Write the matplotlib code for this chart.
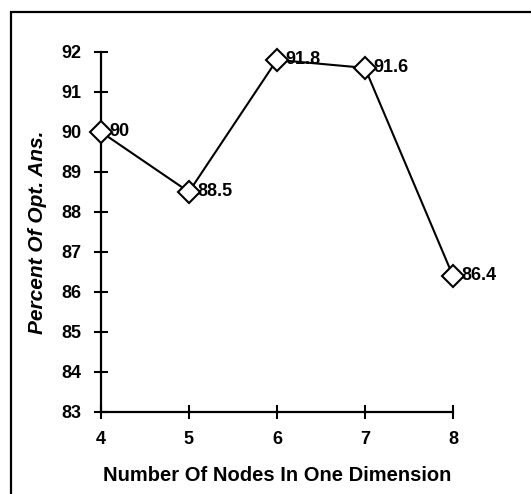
import matplotlib.pyplot as plt
from matplotlib.patches import Rectangle

plt.rcParams['font.family'] = ['Liberation Sans', 'DejaVu Sans']
plt.rcParams['font.weight'] = 'bold'

# data
nodes = [4, 5, 6, 7, 8]
percent = [90, 88.5, 91.8, 91.6, 86.4]
labels = ['90', '88.5', '91.8', '91.6', '86.4']

fig = plt.figure(figsize=(5.31, 4.94), dpi=100)
ax = fig.add_axes([0.190, 0.166, 0.663, 0.729])

ax.plot(nodes, percent, color='black', lw=1.5, marker='D', ms=11,
        mfc='white', mec='black', mew=1.5, clip_on=False, zorder=3)
for x, y, t in zip(nodes, percent, labels):
    ax.annotate(t, (x, y), xytext=(6, 0), textcoords='offset points',
                va='center', ha='left', fontsize=13, fontweight='bold', zorder=4)

ax.set_xlim(4, 8)
ax.set_ylim(83, 92)
ax.set_xticks(nodes)
ax.set_yticks(range(83, 93))
for s in ['top', 'right']:
    ax.spines[s].set_visible(False)
for s in ['left', 'bottom']:
    ax.spines[s].set_linewidth(1.6)
ax.tick_params(direction='inout', length=10, width=1.5, labelsize=13)
ax.tick_params(axis='x', pad=9)
ax.tick_params(axis='y', pad=9)
ax.set_xlabel('Number Of Nodes In One Dimension', fontsize=14.5, fontweight='bold', labelpad=13)
ax.set_ylabel('Percent Of Opt. Ans.', fontsize=15, fontweight='bold', style='italic', labelpad=10)

# outer frame (only left and top edges fall inside the picture)
fig.patches.append(Rectangle((11 / 531, -0.05), 1.0, 1.05 - 12 / 494,
                             transform=fig.transFigure, fill=False, lw=1.6, ec='black'))

fig.savefig('out.png', dpi=100)
